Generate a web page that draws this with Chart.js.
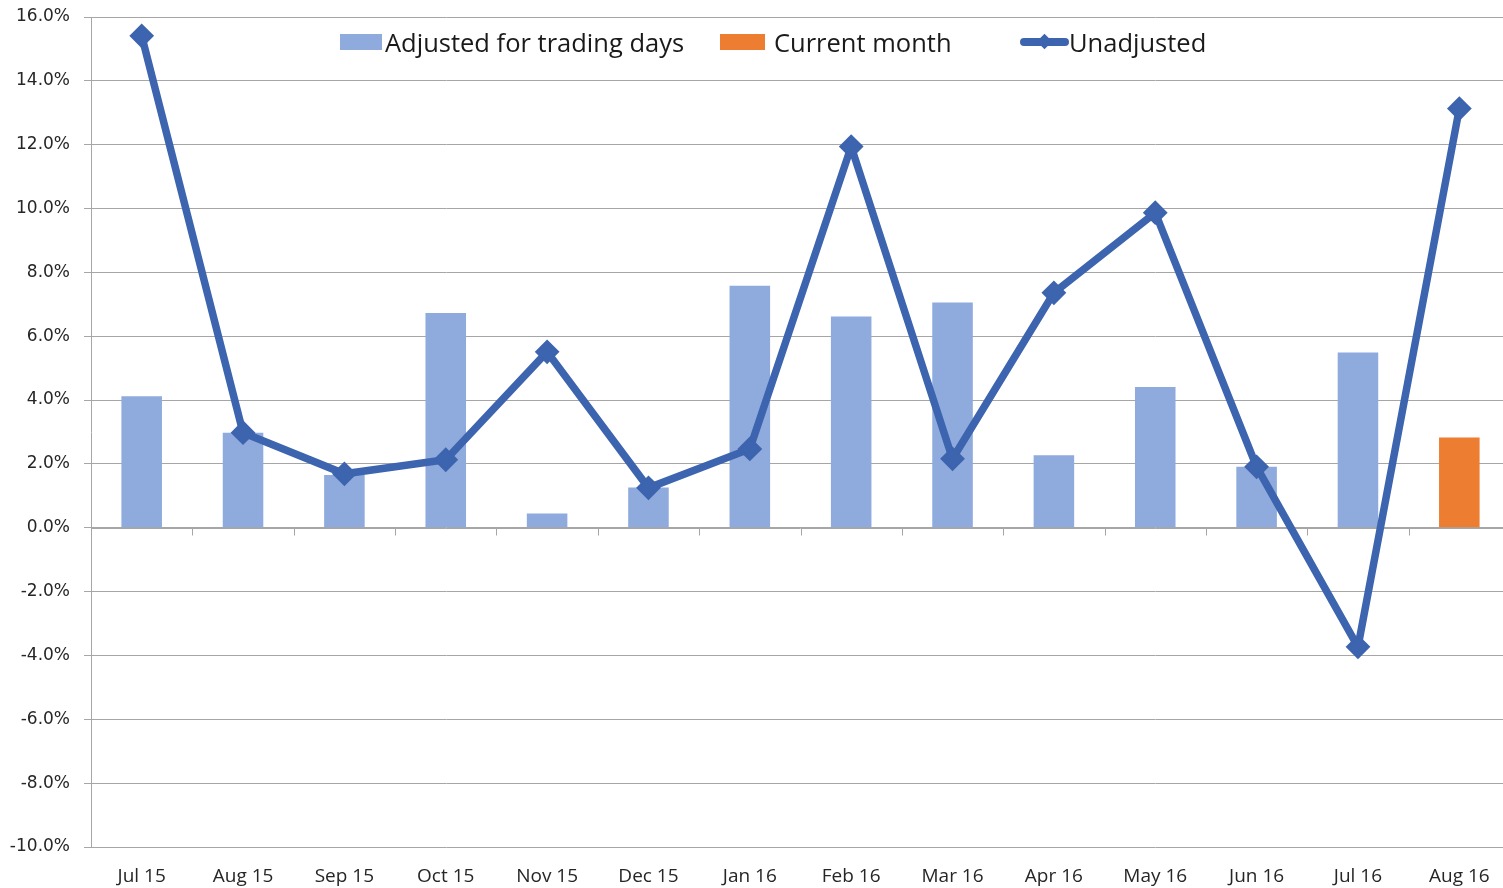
<!DOCTYPE html>
<html>
<head>
<meta charset="utf-8">
<script src="https://cdn.jsdelivr.net/npm/chart.js@4/dist/chart.umd.min.js"></script>
<style>
	html, body { margin: 0; padding: 0; background: #fff; overflow: hidden; }
	#wrap { position: relative; width: 1503px; height: 888px; overflow: hidden; }
	#chart { position: absolute; left: 0; top: 0; }
	#legend { position: absolute; top: 0; left: 0; font-family: "Open Sans", sans-serif; font-size: 25.5px; color: #1a1a1a; white-space: nowrap; }
	#legend .t { position: absolute; top: 25px; line-height: 34px; }
	.sw { position: absolute; top: 34px; height: 16px; }
	.ln { position: absolute; top: 34px; left: 1020px; width: 49px; height: 16px; }
	.ln i { position: absolute; left: 0; right: 0; top: 4px; height: 8px; border-radius: 4px; background: #3d64ae; }
	.ln b { position: absolute; left: 19px; top: 2px; width: 11px; height: 11px; background: #3d64ae; transform: rotate(45deg); }
</style>
</head>
<body>
<div id="wrap">
	<canvas id="chart" width="1512" height="888"></canvas>
	<div id="legend">
		<span class="sw" style="left:340px;width:42px;background:#8faadc"></span>
		<span class="t" style="left:385px">Adjusted for trading days</span>
		<span class="sw" style="left:720px;width:45px;background:#ed7d31"></span>
		<span class="t" style="left:774px">Current month</span>
		<span class="ln"><i></i><b></b></span>
		<span class="t" style="left:1069px">Unadjusted</span>
	</div>
</div>
<script>
	const labels = ["Jul 15", "Aug 15", "Sep 15", "Oct 15", "Nov 15", "Dec 15", "Jan 16",
		"Feb 16", "Mar 16", "Apr 16", "May 16", "Jun 16", "Jul 16", "Aug 16"];
	const adjusted = [4.12, 2.98, 1.65, 6.73, 0.45, 1.26, 7.58, 6.62, 7.06, 2.27, 4.41, 1.91, 5.49, null];
	const currentMonth = [null, null, null, null, null, null, null, null, null, null, null, null, null, 2.83];
	const unadjusted = [15.41, 2.98, 1.69, 2.13, 5.51, 1.25, 2.47, 11.94, 2.16, 7.36, 9.87, 1.91, -3.73, 13.13];

	// x axis line at 0 with tick marks between categories (Excel style)
	const zeroAxis = {
		id: 'zeroAxis',
		beforeDatasetsDraw(chart) {
			const ctx = chart.ctx, x = chart.scales.x, y = chart.scales.y;
			const y0 = Math.round(y.getPixelForValue(0)) + 0.5;
			ctx.save();
			ctx.strokeStyle = '#a6a6a6';
			ctx.lineWidth = 1;
			ctx.beginPath();
			ctx.moveTo(chart.chartArea.left, y0);
			ctx.lineTo(chart.chartArea.right, y0);
			for (let i = 0; i < labels.length - 1; i++) {
				const bx = Math.round((x.getPixelForTick(i) + x.getPixelForTick(i + 1)) / 2) + 0.5;
				ctx.moveTo(bx, y0);
				ctx.lineTo(bx, y0 + 7);
			}
			ctx.stroke();
			ctx.restore();
		}
	};

	new Chart(document.getElementById('chart').getContext('2d'), {
		type: 'bar',
		data: {
			labels: labels,
			datasets: [{
				type: 'line',
				label: 'Unadjusted',
				data: unadjusted,
				borderColor: '#3d64ae',
				backgroundColor: '#3d64ae',
				borderWidth: 7.5,
				pointStyle: 'rectRot',
				pointRadius: 11,
				pointBorderWidth: 2,
				tension: 0,
				clip: false,
				order: 0
			}, {
				label: 'Adjusted for trading days',
				data: adjusted,
				backgroundColor: '#8faadc',
				grouped: false,
				categoryPercentage: 1,
				barPercentage: 0.4,
				order: 1
			}, {
				label: 'Current month',
				data: currentMonth,
				backgroundColor: '#ed7d31',
				grouped: false,
				categoryPercentage: 1,
				barPercentage: 0.4,
				order: 1
			}]
		},
		options: {
			responsive: false,
			animation: false,
			layout: { autoPadding: false, padding: { top: 17, right: 2, left: 0, bottom: 0 } },
			plugins: {
				legend: { display: false },
				tooltip: { enabled: false }
			},
			scales: {
				x: {
					grid: { display: false, drawTicks: false },
					border: { display: false },
					ticks: {
						padding: 18,
						color: '#262626',
						font: { family: 'Open Sans', size: 19 },
						maxRotation: 0
					},
					afterFit(scale) {
						scale.height = 41;
						scale.paddingLeft = 0;
						scale.paddingRight = 0;
					}
				},
				y: {
					min: -10,
					max: 16,
					grid: { color: '#a6a6a6', lineWidth: 1, tickLength: 7 },
					border: { display: true, color: '#a6a6a6' },
					ticks: {
						stepSize: 2,
						padding: 14,
						color: '#262626',
						font: { family: 'DejaVu Sans', size: 17 },
						callback: v => v.toFixed(1) + '%'
					},
					afterFit(scale) {
						scale.width = 91;
						scale.paddingTop = 0;
						scale.paddingBottom = 0;
					}
				}
			}
		},
		plugins: [zeroAxis]
	});
</script>
</body>
</html>
